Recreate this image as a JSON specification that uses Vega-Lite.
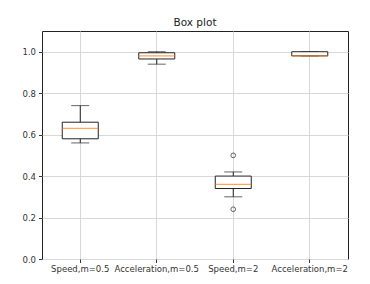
{
  "$schema": "https://vega.github.io/schema/vega-lite/v6.json",
  "width": 306,
  "height": 228,
  "autosize": {"type": "none"},
  "padding": {"left": 42, "top": 31, "right": 22, "bottom": 25},
  "background": "white",
  "title": {"text": "Box plot", "fontSize": 10.5, "fontWeight": "normal", "font": "DejaVu Sans", "color": "#222", "offset": 3},
  "config": {
    "view": {"stroke": "#222", "strokeWidth": 1},
    "axis": {"labelFont": "DejaVu Sans", "labelFontSize": 8.5, "labelColor": "#333", "tickColor": "#333", "tickSize": 3.5, "domain": false, "gridColor": "#d8d8d8", "gridWidth": 1, "title": null}
  },
  "datasets": {
    "boxes": [
      {"cat": "Speed,m=0.5", "lower": 0.56, "q1": 0.58, "median": 0.63, "q3": 0.66, "upper": 0.74},
      {"cat": "Acceleration,m=0.5", "lower": 0.94, "q1": 0.965, "median": 0.98, "q3": 0.995, "upper": 1.0},
      {"cat": "Speed,m=2", "lower": 0.30, "q1": 0.34, "median": 0.36, "q3": 0.40, "upper": 0.42},
      {"cat": "Acceleration,m=2", "lower": 0.98, "q1": 0.98, "median": 0.98, "q3": 1.0, "upper": 1.0}
    ],
    "outliers": [
      {"cat": "Speed,m=2", "value": 0.50},
      {"cat": "Speed,m=2", "value": 0.24}
    ]
  },
  "data": {"name": "boxes"},
  "encoding": {
    "x": {"field": "cat", "type": "nominal", "sort": null,
      "scale": {"type": "band", "paddingInner": 0, "paddingOuter": 0, "domain": ["Speed,m=0.5", "Acceleration,m=0.5", "Speed,m=2", "Acceleration,m=2"]},
      "axis": {"labelAngle": 0, "bandPosition": 0.5, "grid": true, "labelPadding": 2}}
  },
  "layer": [
    {
      "mark": {"type": "rule", "color": "#222", "strokeWidth": 1},
      "encoding": {
        "y": {"field": "lower", "type": "quantitative", "scale": {"domain": [0, 1.1], "nice": false}, "axis": {"values": [0, 0.2, 0.4, 0.6, 0.8, 1.0], "format": ".1f", "grid": true, "labelPadding": 3}},
        "y2": {"field": "upper"}
      }
    },
    {
      "mark": {"type": "tick", "color": "#222", "size": 18, "thickness": 1},
      "encoding": {"y": {"field": "lower", "type": "quantitative"}}
    },
    {
      "mark": {"type": "tick", "color": "#222", "size": 18, "thickness": 1},
      "encoding": {"y": {"field": "upper", "type": "quantitative"}}
    },
    {
      "mark": {"type": "bar", "fill": "white", "stroke": "#222", "strokeWidth": 1, "width": 36},
      "encoding": {
        "y": {"field": "q1", "type": "quantitative"},
        "y2": {"field": "q3"}
      }
    },
    {
      "mark": {"type": "tick", "color": "#ff7f0e", "size": 36, "thickness": 1.2},
      "encoding": {"y": {"field": "median", "type": "quantitative"}}
    },
    {
      "data": {"name": "outliers"},
      "mark": {"type": "point", "shape": "circle", "filled": false, "stroke": "#222", "strokeWidth": 1, "size": 22},
      "encoding": {"y": {"field": "value", "type": "quantitative"}}
    }
  ]
}
